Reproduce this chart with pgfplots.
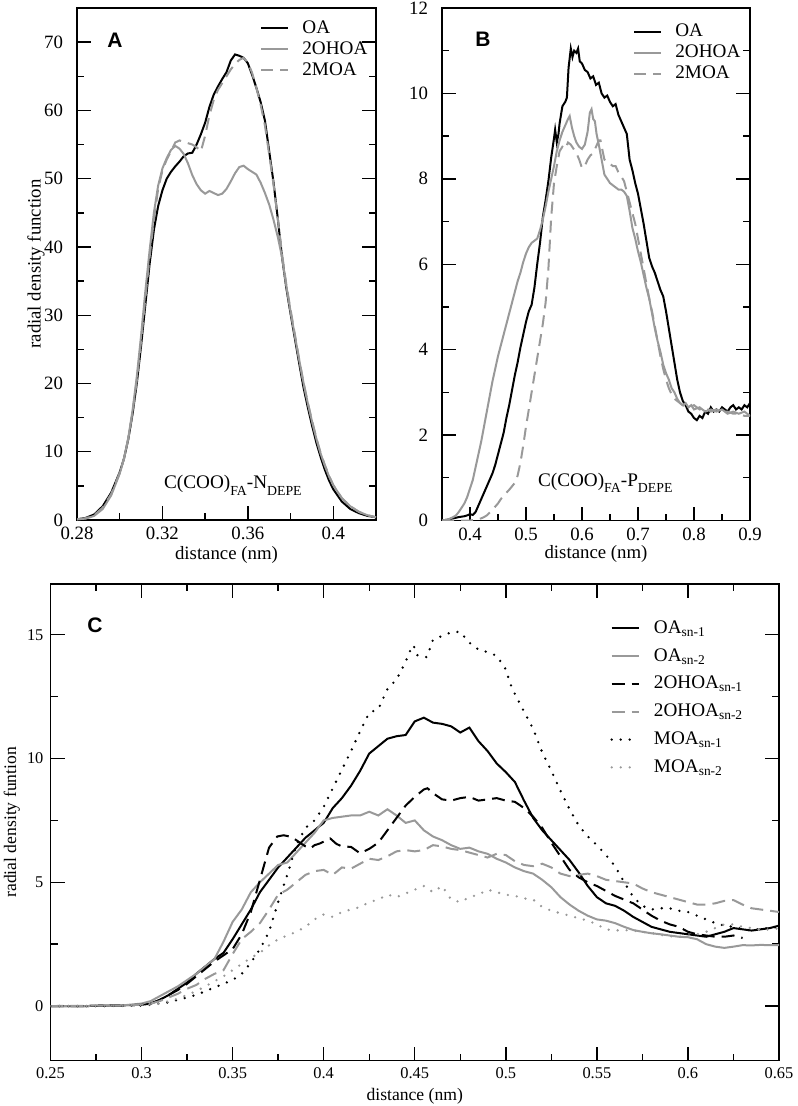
\documentclass[border=0pt]{standalone}
\usepackage{fontspec}
\setmainfont{Liberation Serif}
\newfontfamily\hv{Liberation Sans}
\usepackage{pgfplots}
\usepackage{pgfplotstable}
\pgfplotsset{compat=1.18}
\definecolor{lg}{gray}{0.6}
\newcommand\lsub[1]{\raisebox{-3.3pt}{\fontsize{6.9}{7}\selectfont #1}}
\newcommand\lfont{\fontsize{9.6}{10}\selectfont}

\pgfplotstableread{
x OA OH MO
0.280 0.1 0.1 0.1
0.284 0.3 0.2 0.25
0.288 0.8 0.6 0.7
0.292 2.0 1.6 1.8
0.296 4.0 3.6 3.8
0.300 7.0 6.8 6.9
0.302 9.0 9.0 9.0
0.304 11.8 12.0 11.9
0.306 15.5 16.0 15.8
0.308 20.0 21.0 20.5
0.310 25.5 27.0 26.2
0.312 31.5 33.5 32.5
0.314 37.5 39.5 38.5
0.316 42.5 45.0 44.0
0.318 46.0 49.0 48.5
0.320 48.3 51.5 51.2
0.322 50.0 53.0 52.8
0.324 51.0 54.2 54.0
0.326 51.8 54.8 55.3
0.328 52.5 54.4 55.6
0.330 53.3 53.6 55.4
0.332 53.7 52.2 55.2
0.334 53.8 50.5 55.0
0.336 55.0 49.2 54.6
0.338 56.5 48.3 54.0
0.340 58.2 47.8 56.3
0.342 60.5 48.2 59.3
0.344 62.3 47.9 61.5
0.346 63.5 47.6 63.0
0.348 64.6 47.8 64.0
0.350 65.6 48.5 65.0
0.352 67.3 49.6 66.0
0.354 68.2 50.8 66.8
0.356 68.0 51.7 67.4
0.358 67.7 51.9 67.7
0.360 66.9 51.4 67.0
0.362 65.2 51.0 65.5
0.364 63.3 50.6 63.3
0.366 61.2 49.4 60.8
0.368 58.5 47.9 57.8
0.370 54.0 46.2 53.5
0.372 49.5 44.0 49.2
0.374 44.2 41.5 44.2
0.376 38.5 38.5 39.0
0.378 34.0 34.3 34.5
0.380 30.2 30.5 30.8
0.382 26.6 27.0 27.2
0.384 23.0 23.5 23.6
0.386 19.5 20.2 20.2
0.388 16.6 17.2 17.3
0.390 13.9 14.5 14.6
0.392 11.4 12.0 12.1
0.394 9.3 9.8 9.9
0.396 7.4 8.0 8.1
0.398 5.8 6.4 6.5
0.400 4.5 5.1 5.1
0.404 2.7 3.2 3.2
0.408 1.6 2.0 2.0
0.412 1.0 1.2 1.2
0.416 0.6 0.7 0.7
0.420 0.4 0.4 0.4
}\tabA

\pgfplotstableread{
x y
0.350 0.00
0.360 0.02
0.370 0.05
0.380 0.08
0.390 0.10
0.395 0.12
0.400 0.15
0.405 0.13
0.410 0.20
0.415 0.35
0.420 0.50
0.425 0.65
0.430 0.80
0.435 0.95
0.440 1.10
0.445 1.30
0.450 1.55
0.455 1.80
0.460 2.05
0.465 2.40
0.470 2.70
0.475 3.05
0.480 3.40
0.485 3.70
0.490 4.05
0.495 4.35
0.500 4.65
0.505 4.90
0.510 5.05
0.515 5.45
0.520 6.00
0.525 6.50
0.530 7.10
0.535 7.50
0.540 7.95
0.545 8.50
0.550 8.95
0.552 9.15
0.555 8.85
0.558 9.05
0.560 9.30
0.565 9.70
0.570 9.80
0.573 9.90
0.576 10.60
0.580 11.05
0.583 10.85
0.586 11.00
0.590 10.95
0.593 11.05
0.596 10.75
0.600 10.70
0.605 10.55
0.610 10.50
0.615 10.35
0.620 10.40
0.625 10.20
0.630 10.25
0.635 10.00
0.640 9.90
0.645 9.95
0.650 9.80
0.655 9.70
0.660 9.75
0.665 9.50
0.670 9.35
0.675 9.20
0.680 9.05
0.685 8.45
0.690 8.20
0.695 7.90
0.700 7.65
0.705 7.30
0.710 6.95
0.715 6.55
0.720 6.15
0.725 5.95
0.730 5.80
0.735 5.60
0.740 5.40
0.745 5.25
0.750 4.90
0.755 4.50
0.760 4.10
0.765 3.70
0.770 3.30
0.775 3.00
0.780 2.80
0.785 2.70
0.790 2.55
0.795 2.50
0.800 2.40
0.805 2.35
0.810 2.45
0.815 2.40
0.820 2.55
0.825 2.50
0.830 2.65
0.835 2.55
0.840 2.60
0.845 2.55
0.850 2.65
0.855 2.60
0.860 2.55
0.865 2.65
0.870 2.70
0.875 2.60
0.880 2.65
0.885 2.60
0.890 2.70
0.895 2.65
0.900 2.75
}\tabBoa

\pgfplotstableread{
x y
0.350 0.00
0.360 0.02
0.370 0.08
0.375 0.12
0.380 0.20
0.385 0.30
0.390 0.40
0.395 0.55
0.400 0.75
0.405 0.95
0.410 1.25
0.415 1.55
0.420 1.85
0.425 2.20
0.430 2.55
0.435 2.90
0.440 3.25
0.445 3.55
0.450 3.85
0.455 4.10
0.460 4.35
0.465 4.60
0.470 4.85
0.475 5.10
0.480 5.35
0.485 5.60
0.490 5.80
0.495 6.05
0.500 6.25
0.505 6.40
0.510 6.50
0.515 6.55
0.520 6.60
0.525 6.80
0.530 7.05
0.535 7.35
0.540 7.70
0.545 8.00
0.550 8.30
0.555 8.65
0.560 8.90
0.565 9.10
0.570 9.25
0.575 9.40
0.578 9.47
0.582 9.20
0.586 9.00
0.590 8.85
0.595 8.75
0.600 8.70
0.605 8.80
0.610 9.10
0.614 9.55
0.617 9.63
0.620 9.40
0.623 9.35
0.626 9.05
0.630 8.80
0.635 8.45
0.640 8.10
0.645 8.00
0.650 7.90
0.655 7.85
0.660 7.80
0.665 7.75
0.670 7.75
0.675 7.70
0.680 7.60
0.685 7.25
0.690 6.85
0.695 6.60
0.700 6.30
0.705 6.05
0.710 5.75
0.715 5.45
0.720 5.20
0.725 4.85
0.730 4.50
0.735 4.20
0.740 3.95
0.745 3.65
0.750 3.45
0.755 3.30
0.760 3.10
0.765 3.00
0.770 2.85
0.775 2.75
0.780 2.70
0.785 2.75
0.790 2.65
0.795 2.70
0.800 2.60
0.810 2.65
0.820 2.55
0.830 2.60
0.840 2.55
0.850 2.60
0.860 2.50
0.870 2.55
0.880 2.50
0.890 2.55
0.900 2.45
}\tabBoh

\pgfplotstableread{
x y
0.350 0
0.380 0
0.400 0.00
0.410 0.02
0.420 0.05
0.425 0.08
0.430 0.12
0.440 0.25
0.450 0.40
0.455 0.50
0.460 0.58
0.470 0.72
0.480 0.88
0.485 1.05
0.490 1.35
0.495 1.75
0.500 2.20
0.505 2.60
0.510 3.00
0.515 3.40
0.520 3.80
0.525 4.20
0.530 4.60
0.535 5.10
0.540 5.90
0.545 7.10
0.550 7.90
0.555 8.30
0.560 8.65
0.565 8.75
0.570 8.70
0.575 8.85
0.580 8.80
0.585 8.70
0.590 8.60
0.595 8.45
0.600 8.25
0.605 8.30
0.610 8.45
0.615 8.55
0.620 8.60
0.625 8.75
0.630 8.90
0.633 8.90
0.636 8.70
0.640 8.45
0.645 8.40
0.650 8.35
0.655 8.30
0.660 8.30
0.665 8.15
0.670 8.05
0.675 7.95
0.680 7.70
0.685 7.45
0.690 7.20
0.695 6.95
0.700 6.60
0.705 6.25
0.710 5.90
0.715 5.55
0.720 5.20
0.725 4.90
0.730 4.55
0.735 4.20
0.740 3.85
0.745 3.55
0.750 3.30
0.755 3.10
0.760 2.95
0.765 2.85
0.770 2.80
0.775 2.75
0.780 2.70
0.790 2.65
0.800 2.70
0.810 2.60
0.820 2.65
0.830 2.55
0.840 2.60
0.850 2.55
0.860 2.55
0.870 2.50
0.880 2.50
0.890 2.45
0.900 2.45
}\tabBmo

\pgfplotsset{
  rdf/.style={
    scale only axis,
    axis line style={line width=0.7pt},
    tick style={line width=0.7pt, black},
    tick align=inside,
    major tick length=7pt,
    minor tick length=3.5pt,
    tick label style={font=\fontsize{9.4}{11}\selectfont},
    label style={font=\fontsize{9.4}{11}\selectfont},
    legend cell align=left,
    legend image code/.code={\draw[##1] (0pt,0pt) -- (13.5pt,0pt);},
    legend style={draw=none, fill=none, inner sep=0pt, row sep=1.5pt,
      font=\lfont,
      nodes={inner sep=0pt, text height=7pt, text depth=2pt, font=\lfont},
      /tikz/every odd column/.append style={column sep=6.5pt}},
  },
  blk/.style={black, line width=1pt},
  gry/.style={lg, line width=1pt},
}

\begin{document}
\begin{tikzpicture}
\path[use as bounding box] (0,0) rectangle (398.5pt,-553pt);

% Panel A
\begin{axis}[rdf,
  at={(38.5pt,-260pt)}, anchor=south west,
  width=149.5pt, height=256pt,
  xmin=0.28, xmax=0.42, ymin=0, ymax=75,
  xtick={0.28,0.32,0.36,0.4}, minor xtick={0.30,0.34,0.38},
  xticklabels={0.28,0.32,0.36,0.4},
  ytick={0,10,20,30,40,50,60,70}, minor ytick={5,15,25,35,45,55,65},
  yticklabels={0,10,20,30,40,50,60,70},
  xtick pos=left, ytick pos=both, yticklabel pos=left,
  yticklabel style={xshift=-3.5pt},
  xlabel={distance (nm)}, ylabel={radial density function},
  xlabel style={at={(axis description cs:0.5,-0.068)}, anchor=center},
  ylabel style={at={(axis description cs:-0.137,0.5)}, anchor=center},
  legend style={at={(axis description cs:0.612,0.979)}, anchor=north west},
]
\addplot[blk] table[x=x,y=OA] {\tabA};
\addlegendentry{\lfont OA}
\addplot[gry] table[x=x,y=OH] {\tabA};
\addlegendentry{\lfont 2OHOA}
\addplot[gry, dash pattern=on 6pt off 3.5pt] table[x=x,y=MO] {\tabA};
\addlegendentry{\lfont 2MOA}
\node[font=\hv\bfseries\fontsize{10.5}{12}\selectfont] at (axis description cs:0.127,0.936) {A};
\node[anchor=base west, font=\fontsize{9.6}{11}\selectfont] at (axis cs:0.3175,4.6) {C(COO)\lsub{FA}-N\lsub{DEPE}};
\end{axis}

% Panel B
\begin{axis}[rdf,
  at={(221pt,-260.25pt)}, anchor=south west,
  width=154pt, height=256.25pt,
  xmin=0.35, xmax=0.9, ymin=0, ymax=12,
  xtick={0.4,0.5,0.6,0.7,0.8,0.9}, minor xtick={0.45,0.55,0.65,0.75,0.85},
  xticklabels={0.4,0.5,0.6,0.7,0.8,0.9},
  ytick={0,2,4,6,8,10,12}, minor ytick={1,3,5,7,9,11},
  yticklabels={0,2,4,6,8,10,12},
  xtick pos=left, ytick pos=both, yticklabel pos=left,
  yticklabel style={xshift=-3.5pt},
  xlabel={distance (nm)},
  xlabel style={at={(axis description cs:0.5,-0.066)}, anchor=center},
  legend style={at={(axis description cs:0.62,0.972)}, anchor=north west},
]
\addplot[blk] table[x=x,y=y] {\tabBoa};
\addlegendentry{\lfont OA}
\addplot[gry] table[x=x,y=y] {\tabBoh};
\addlegendentry{\lfont 2OHOA}
\addplot[gry, dash pattern=on 6pt off 3.5pt] table[x=x,y=y] {\tabBmo};
\addlegendentry{\lfont 2MOA}
\node[font=\hv\bfseries\fontsize{10.5}{12}\selectfont] at (axis description cs:0.133,0.938) {B};
\node[anchor=base west, font=\fontsize{9.6}{11}\selectfont] at (axis cs:0.509,0.8) {C(COO)\lsub{FA}-P\lsub{DEPE}};
\end{axis}

% Panel C
\begin{axis}[rdf,
  at={(25.25pt,-530.25pt)}, anchor=south west,
  width=364.25pt, height=238.25pt,
  xmin=0.25, xmax=0.65, ymin=-2.2, ymax=17.05,
  xtick={0.25,0.3,0.35,0.4,0.45,0.5,0.55,0.6,0.65},
  xticklabels={0.25,0.3,0.35,0.4,0.45,0.5,0.55,0.6,0.65},
  minor xtick={0.275,0.325,0.375,0.425,0.475,0.525,0.575,0.625},
  ytick={0,5,10,15}, minor ytick={2.5,7.5,12.5},
  yticklabels={0,5,10,15},
  xtick pos=both, ytick pos=both, xticklabel pos=left, yticklabel pos=left,
  tick label style={font=\fontsize{8.2}{9}\selectfont},
  xlabel={distance (nm)}, ylabel={radial density funtion},
  label style={font=\fontsize{8.8}{10}\selectfont},
  xlabel style={at={(axis description cs:0.5,-0.0745)}, anchor=center},
  ylabel style={at={(axis description cs:-0.053,0.5)}, anchor=center},
  legend style={at={(axis description cs:0.768,0.9266)}, anchor=north west,
    row sep=4.9pt, /tikz/every odd column/.append style={column sep=7pt}},
]
\addplot[blk] coordinates {
(0.25,0) (0.26,0) (0.27,0) (0.28,0.02) (0.29,0.03) (0.30,0.05) (0.305,0.1) (0.31,0.25) (0.315,0.45) (0.32,0.7) (0.325,0.95) (0.33,1.3) (0.335,1.6) (0.34,1.9) (0.345,2.15) (0.35,2.7) (0.355,3.3) (0.36,3.9) (0.365,4.6) (0.37,5.1) (0.375,5.6) (0.38,6.0) (0.385,6.4) (0.39,6.8) (0.395,7.1) (0.40,7.4) (0.405,8.0) (0.41,8.4) (0.415,8.9) (0.42,9.5) (0.425,10.2) (0.43,10.5) (0.435,10.8) (0.44,10.9) (0.445,10.95) (0.45,11.5) (0.455,11.65) (0.46,11.45) (0.465,11.4) (0.47,11.3) (0.475,11.05) (0.48,11.25) (0.485,10.7) (0.49,10.3) (0.495,9.8) (0.50,9.45) (0.505,9.05) (0.51,8.3) (0.515,7.6) (0.52,7.1) (0.525,6.7) (0.53,6.3) (0.535,5.9) (0.54,5.4) (0.545,4.85) (0.55,4.4) (0.555,4.15) (0.56,4.05) (0.565,3.85) (0.57,3.6) (0.575,3.4) (0.58,3.2) (0.585,3.1) (0.59,3.0) (0.595,2.95) (0.60,2.9) (0.605,2.85) (0.61,2.8) (0.615,2.9) (0.62,3.0) (0.625,3.15) (0.63,3.1) (0.635,3.05) (0.64,3.1) (0.645,3.15) (0.65,3.25)
};
\addlegendentry{\lfont OA\textsubscript{sn-1}}
\addplot[gry] coordinates {
(0.25,0) (0.27,0) (0.29,0.03) (0.30,0.1) (0.305,0.2) (0.31,0.4) (0.315,0.6) (0.32,0.8) (0.325,1.05) (0.33,1.3) (0.335,1.6) (0.34,1.9) (0.345,2.6) (0.35,3.4) (0.355,3.9) (0.36,4.6) (0.365,5.0) (0.37,5.35) (0.375,5.7) (0.38,5.8) (0.385,6.2) (0.39,6.6) (0.395,7.0) (0.40,7.5) (0.405,7.6) (0.41,7.65) (0.415,7.7) (0.42,7.7) (0.425,7.85) (0.43,7.7) (0.435,7.95) (0.44,7.7) (0.445,7.4) (0.45,7.5) (0.455,7.1) (0.46,6.85) (0.465,6.7) (0.47,6.5) (0.475,6.35) (0.48,6.4) (0.485,6.25) (0.49,6.15) (0.495,5.95) (0.50,5.8) (0.505,5.6) (0.51,5.45) (0.515,5.35) (0.52,5.1) (0.525,4.8) (0.53,4.4) (0.535,4.1) (0.54,3.85) (0.545,3.65) (0.55,3.5) (0.555,3.45) (0.56,3.35) (0.565,3.2) (0.57,3.07) (0.575,3.0) (0.58,2.94) (0.585,2.9) (0.59,2.85) (0.595,2.8) (0.60,2.78) (0.605,2.7) (0.61,2.5) (0.615,2.4) (0.62,2.35) (0.625,2.4) (0.63,2.46) (0.635,2.45) (0.64,2.47) (0.645,2.46) (0.65,2.46)
};
\addlegendentry{\lfont OA\textsubscript{sn-2}}
\addplot[blk, dash pattern=on 6.5pt off 3.5pt] coordinates {
(0.25,0) (0.27,0) (0.28,0.02) (0.29,0.03) (0.30,0.05) (0.305,0.1) (0.31,0.25) (0.315,0.45) (0.32,0.65) (0.325,0.9) (0.33,1.2) (0.335,1.5) (0.34,1.8) (0.345,2.05) (0.35,2.3) (0.355,2.9) (0.36,3.8) (0.365,5.1) (0.37,6.4) (0.3745,6.85) (0.378,6.9) (0.382,6.84) (0.385,6.7) (0.3875,6.57) (0.39,6.45) (0.3927,6.37) (0.395,6.5) (0.398,6.57) (0.4036,6.77) (0.407,6.55) (0.41,6.45) (0.415,6.43) (0.42,6.17) (0.425,6.35) (0.43,6.6) (0.435,7.1) (0.44,7.6) (0.445,8.1) (0.45,8.45) (0.455,8.75) (0.457,8.8) (0.46,8.6) (0.465,8.35) (0.47,8.3) (0.475,8.4) (0.48,8.45) (0.485,8.3) (0.49,8.35) (0.495,8.4) (0.50,8.3) (0.505,8.25) (0.51,8.0) (0.515,7.65) (0.52,7.2) (0.525,6.6) (0.53,6.05) (0.535,5.5) (0.54,5.2) (0.545,5.0) (0.55,4.85) (0.555,4.65) (0.56,4.45) (0.565,4.3) (0.57,4.15) (0.575,3.9) (0.58,3.65) (0.585,3.45) (0.59,3.3) (0.595,3.2) (0.60,3.0) (0.605,2.9) (0.61,2.85) (0.615,2.8) (0.62,2.8) (0.625,2.85) (0.63,2.75)
};
\addlegendentry{\lfont 2OHOA\textsubscript{sn-1}}
\addplot[gry, dash pattern=on 6.5pt off 3.5pt] coordinates {
(0.25,0) (0.28,0.02) (0.30,0.05) (0.305,0.1) (0.31,0.2) (0.315,0.35) (0.32,0.5) (0.325,0.7) (0.33,0.85) (0.335,1.1) (0.34,1.3) (0.345,1.45) (0.35,2.1) (0.355,2.7) (0.36,3.0) (0.365,3.35) (0.37,3.9) (0.375,4.5) (0.38,4.7) (0.385,5.0) (0.39,5.3) (0.395,5.45) (0.40,5.5) (0.405,5.3) (0.41,5.6) (0.415,5.55) (0.42,5.75) (0.425,5.95) (0.43,5.9) (0.435,6.05) (0.44,6.25) (0.445,6.3) (0.45,6.25) (0.455,6.3) (0.46,6.5) (0.465,6.45) (0.47,6.35) (0.475,6.3) (0.48,6.2) (0.485,6.1) (0.49,6.0) (0.495,6.15) (0.50,6.1) (0.505,5.85) (0.51,5.7) (0.515,5.65) (0.52,5.75) (0.525,5.6) (0.53,5.35) (0.535,5.25) (0.54,5.3) (0.545,5.35) (0.55,5.25) (0.555,5.1) (0.56,5.05) (0.565,5.0) (0.57,4.95) (0.575,4.75) (0.58,4.6) (0.585,4.5) (0.59,4.4) (0.595,4.3) (0.60,4.2) (0.605,4.1) (0.61,4.1) (0.615,4.15) (0.62,4.25) (0.625,4.28) (0.63,4.1) (0.635,3.95) (0.64,3.9) (0.645,3.85) (0.65,3.8)
};
\addlegendentry{\lfont 2OHOA\textsubscript{sn-2}}
\addplot[blk, line width=1.3pt, line cap=round, dash pattern=on 0pt off 4.5pt] coordinates {
(0.25,0) (0.28,0) (0.30,0.02) (0.305,0.05) (0.31,0.1) (0.315,0.15) (0.32,0.25) (0.325,0.35) (0.33,0.45) (0.335,0.6) (0.34,0.75) (0.345,0.9) (0.35,1.05) (0.355,1.3) (0.36,1.75) (0.365,2.3) (0.37,3.0) (0.375,4.2) (0.38,5.3) (0.385,6.5) (0.39,7.2) (0.395,7.5) (0.40,8.05) (0.405,8.8) (0.41,9.55) (0.415,10.3) (0.42,11.1) (0.425,11.85) (0.43,12.0) (0.435,12.8) (0.44,13.2) (0.445,13.9) (0.4466,14.24) (0.4493,14.58) (0.4512,14.18) (0.455,14.1) (0.4567,14.1) (0.46,14.8) (0.465,14.95) (0.47,15.1) (0.475,15.12) (0.4795,14.71) (0.485,14.4) (0.49,14.3) (0.495,14.15) (0.50,13.6) (0.5024,13.03) (0.505,12.6) (0.51,11.9) (0.515,11.2) (0.52,10.25) (0.525,9.5) (0.53,8.7) (0.535,7.95) (0.54,7.3) (0.545,6.85) (0.55,6.5) (0.555,6.1) (0.56,5.65) (0.565,5.0) (0.57,4.4) (0.575,4.05) (0.58,3.9) (0.585,3.95) (0.59,3.95) (0.595,3.85) (0.60,3.8) (0.605,3.65) (0.61,3.5) (0.615,3.35) (0.62,3.25) (0.625,3.2) (0.63,3.1) (0.635,3.05) (0.64,3.12) (0.645,3.15) (0.65,3.2)
};
\addlegendentry{\lfont MOA\textsubscript{sn-1}}
\addplot[gry, line width=1.3pt, line cap=round, dash pattern=on 0pt off 4.5pt] coordinates {
(0.25,0) (0.29,0.02) (0.30,0.05) (0.31,0.1) (0.315,0.2) (0.32,0.3) (0.325,0.45) (0.33,0.6) (0.335,0.8) (0.34,1.0) (0.345,1.2) (0.35,1.45) (0.355,1.7) (0.36,1.95) (0.365,2.15) (0.37,2.45) (0.375,2.7) (0.38,2.85) (0.385,3.0) (0.39,3.2) (0.395,3.5) (0.40,3.7) (0.405,3.6) (0.41,3.8) (0.415,3.9) (0.42,4.0) (0.425,4.2) (0.43,4.3) (0.435,4.5) (0.44,4.4) (0.445,4.55) (0.45,4.7) (0.455,4.85) (0.46,4.6) (0.465,4.85) (0.47,4.3) (0.475,4.2) (0.48,4.4) (0.485,4.5) (0.49,4.7) (0.495,4.6) (0.50,4.5) (0.505,4.45) (0.51,4.35) (0.515,4.3) (0.52,4.0) (0.525,3.85) (0.53,3.75) (0.535,3.65) (0.54,3.55) (0.545,3.45) (0.55,3.3) (0.555,3.1) (0.56,3.05) (0.565,3.07) (0.57,3.05) (0.575,3.0) (0.58,2.95) (0.585,2.88) (0.59,2.82) (0.595,2.8) (0.60,2.85) (0.605,2.9) (0.61,3.0) (0.615,3.15) (0.62,3.3) (0.625,3.3) (0.63,3.2) (0.635,3.15) (0.64,3.07) (0.645,3.1) (0.65,3.14)
};
\addlegendentry{\lfont MOA\textsubscript{sn-2}}
\node[font=\hv\bfseries\fontsize{10.5}{12}\selectfont] at (axis description cs:0.061,0.914) {C};
\end{axis}
\end{tikzpicture}
\end{document}
